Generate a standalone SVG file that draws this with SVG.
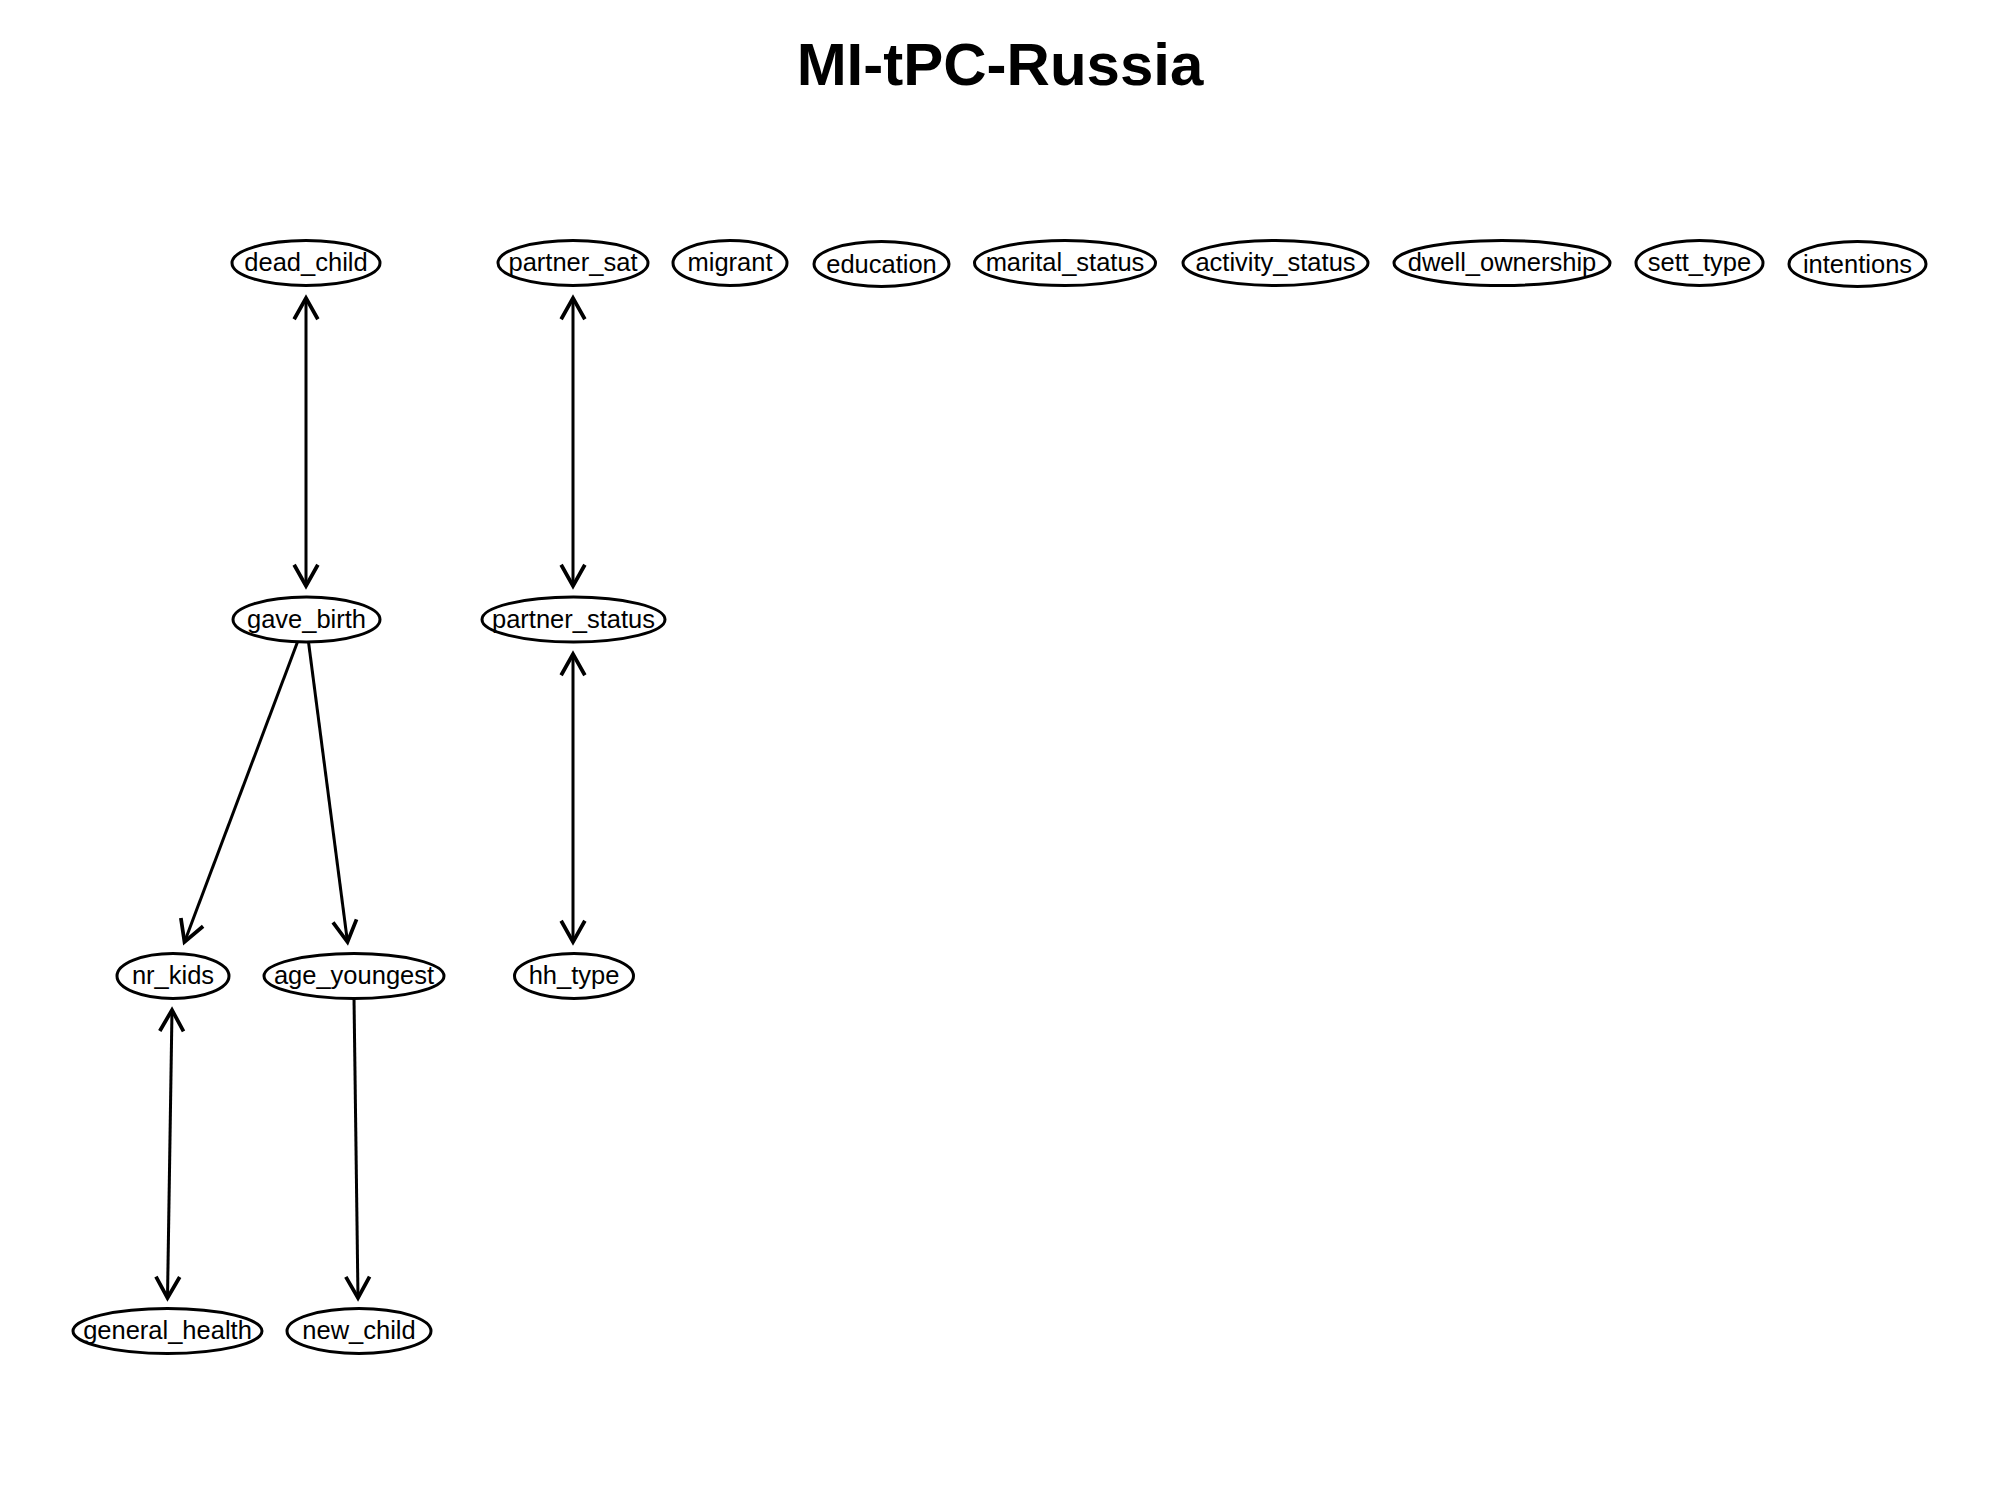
<svg xmlns="http://www.w3.org/2000/svg" width="2000" height="1500" viewBox="0 0 2000 1500">
<style>
.n ellipse{fill:#fff;stroke:#000;stroke-width:3}
.n text{font-family:"Liberation Sans",Arial,sans-serif;font-size:25.5px;text-anchor:middle;fill:#000}
.e line{stroke:#000;stroke-width:3;fill:none}
.t{font-family:"Liberation Sans",Arial,sans-serif;font-size:60px;font-weight:bold;text-anchor:middle;fill:#000}
</style>
<defs>
<marker id="a" markerUnits="userSpaceOnUse" markerWidth="30" markerHeight="30" refX="0" refY="0" viewBox="-20 -12 22 24" orient="auto-start-reverse" overflow="visible">
<path d="M -17 -9.5 L 0 0 L -17 9.5" fill="none" stroke="#000" stroke-width="3" stroke-linejoin="miter" stroke-linecap="butt"/>
</marker>
</defs>
<rect width="2000" height="1500" fill="#fff"/>
<text class="t" x="1000" y="85">MI-tPC-Russia</text>
<g class="e" id="connectors">
<line x1="306" y1="298" x2="306" y2="586" marker-start="url(#a)" marker-end="url(#a)"/>
<line x1="573" y1="298" x2="573" y2="586" marker-start="url(#a)" marker-end="url(#a)"/>
<line x1="573" y1="654" x2="573" y2="942" marker-start="url(#a)" marker-end="url(#a)"/>
<line x1="297.5" y1="642" x2="184.5" y2="942" marker-end="url(#a)"/>
<line x1="308.5" y1="642" x2="347.5" y2="942" marker-end="url(#a)"/>
<line x1="172" y1="1010" x2="167.5" y2="1298" marker-start="url(#a)" marker-end="url(#a)"/>
<line x1="354" y1="998" x2="358" y2="1298" marker-end="url(#a)"/>
</g>
<g class="n" id="dead_child"><ellipse cx="306" cy="263" rx="74" ry="22.5"/><text x="306" y="271">dead_child</text></g>
<g class="n" id="partner_sat"><ellipse cx="573" cy="263" rx="75" ry="22.5"/><text x="573" y="271">partner_sat</text></g>
<g class="n" id="migrant"><ellipse cx="730" cy="263" rx="57" ry="22.5"/><text x="730" y="271">migrant</text></g>
<g class="n" id="education"><ellipse cx="881.5" cy="264" rx="67.5" ry="22.5"/><text x="881.5" y="273">education</text></g>
<g class="n" id="marital_status"><ellipse cx="1065" cy="263" rx="90.5" ry="22.5"/><text x="1065" y="271">marital_status</text></g>
<g class="n" id="activity_status"><ellipse cx="1275.5" cy="263" rx="92.5" ry="22.5"/><text x="1275.5" y="271">activity_status</text></g>
<g class="n" id="dwell_ownership"><ellipse cx="1502" cy="263" rx="108" ry="22.5"/><text x="1502" y="271">dwell_ownership</text></g>
<g class="n" id="sett_type"><ellipse cx="1699.5" cy="263" rx="63.5" ry="22.5"/><text x="1699.5" y="271">sett_type</text></g>
<g class="n" id="intentions"><ellipse cx="1857.5" cy="264" rx="68.5" ry="22.5"/><text x="1857.5" y="273">intentions</text></g>
<g class="n" id="gave_birth"><ellipse cx="306.5" cy="619.5" rx="73.5" ry="22.5"/><text x="306.5" y="627.5">gave_birth</text></g>
<g class="n" id="partner_status"><ellipse cx="573.5" cy="619.5" rx="91.5" ry="22.5"/><text x="573.5" y="627.5">partner_status</text></g>
<g class="n" id="nr_kids"><ellipse cx="173" cy="976" rx="56" ry="22.5"/><text x="173" y="984">nr_kids</text></g>
<g class="n" id="age_youngest"><ellipse cx="354" cy="976" rx="90" ry="22.5"/><text x="354" y="984">age_youngest</text></g>
<g class="n" id="hh_type"><ellipse cx="574" cy="976" rx="59.5" ry="22.5"/><text x="574" y="984">hh_type</text></g>
<g class="n" id="general_health"><ellipse cx="167.5" cy="1331" rx="94.5" ry="22.5"/><text x="167.5" y="1339">general_health</text></g>
<g class="n" id="new_child"><ellipse cx="359" cy="1331" rx="72" ry="22.5"/><text x="359" y="1339">new_child</text></g>
</svg>
